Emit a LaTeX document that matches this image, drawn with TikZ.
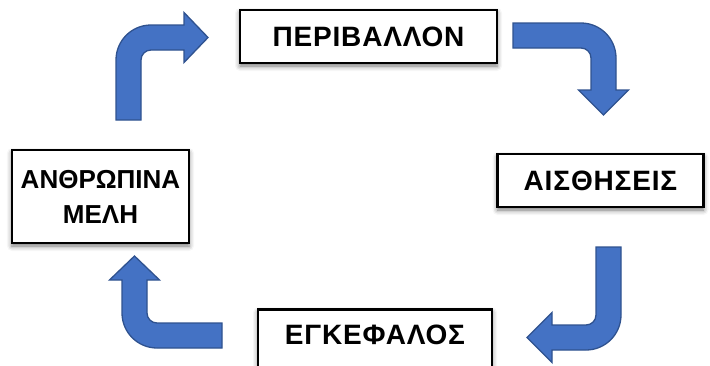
\documentclass[tikz,border=0pt]{standalone}
\usepackage{fontspec}
\setmainfont{Liberation Sans}
\usetikzlibrary{shadows.blur}
\definecolor{arrowfill}{HTML}{4472C4}
\definecolor{arrowline}{HTML}{2F528F}
\begin{document}
\begin{tikzpicture}[x=1pt,y=-1pt,
  box/.style={draw=black, line width=2.6pt, fill=white,
    font=\bfseries\fontsize{28}{34}\selectfont\addfontfeatures{LetterSpace=3}, align=center, inner sep=0pt,
    blur shadow={shadow xshift=0pt, shadow yshift=-3pt, shadow blur radius=5pt, shadow opacity=55}},
  bent/.style={fill=arrowfill, draw=arrowline, line width=1.3pt, line join=miter}]
\useasboundingbox (0,0) rectangle (710,365);
% boxes
\node[box, minimum width=257pt, minimum height=53pt] (env) at (368.5,36.5) {ΠΕΡΙΒΑΛΛΟΝ};
\node[box, minimum width=206pt, minimum height=53pt] (sens) at (600.5,180.5) {ΑΙΣΘΗΣΕΙΣ};
\node[box, minimum width=177pt, minimum height=93pt,
  font=\bfseries\fontsize{26}{35}\selectfont] (limbs) at (100.5,196.5) {ΑΝΘΡΩΠΙΝΑ\\ΜΕΛΗ};
\node[box, minimum width=234pt, text height=35pt, text depth=25pt, anchor=north] (brain) at (375,308) {ΕΓΚΕΦΑΛΟΣ};
% arrow limbs -> environment
\draw[bent] (116,120) -- (116,60) arc[start angle=180, end angle=270, radius=35]
  -- (184,25) -- (184,12.5) -- (208,37.5) -- (184,62.5) -- (184,50) -- (151,50)
  arc[start angle=270, end angle=180, radius=10] -- (141,120) -- cycle;
% arrow environment -> senses
\draw[bent] (513,23) -- (581,23) arc[start angle=270, end angle=360, radius=35]
  -- (616,90) -- (628.5,90) -- (603.5,115) -- (578.5,90) -- (591,90) -- (591,58)
  arc[start angle=360, end angle=270, radius=10] -- (513,48) -- cycle;
% arrow senses -> brain
\draw[bent] (596,247) -- (621,247) -- (621,315) arc[start angle=0, end angle=90, radius=35]
  -- (552,350) -- (552,362.5) -- (527,337.5) -- (552,312.5) -- (552,325) -- (586,325)
  arc[start angle=90, end angle=0, radius=10] -- cycle;
% arrow brain -> limbs
\draw[bent] (222,323) -- (157,323) arc[start angle=90, end angle=180, radius=10]
  -- (147,280) -- (159.5,280) -- (134.5,256) -- (109.5,280) -- (122,280) -- (122,313)
  arc[start angle=180, end angle=90, radius=35] -- (222,348) -- cycle;
\end{tikzpicture}
\end{document}
